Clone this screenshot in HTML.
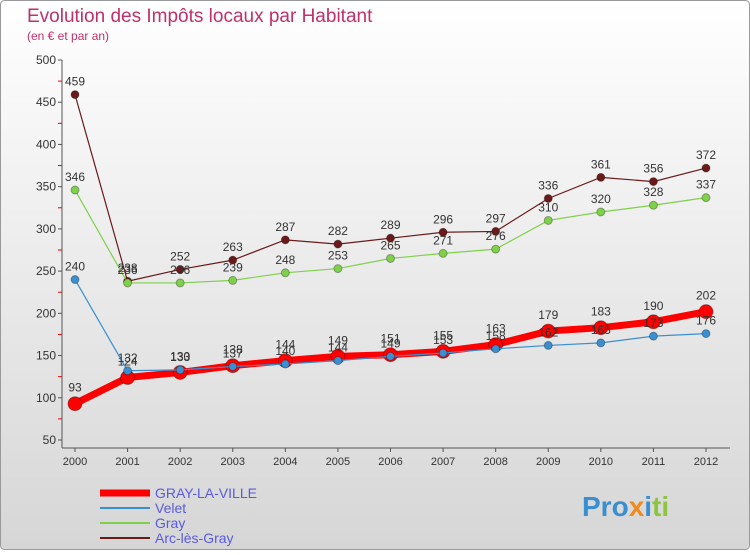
<!DOCTYPE html>
<html><head><meta charset="utf-8"><style>
body{margin:0;width:750px;height:550px;overflow:hidden;font-family:"Liberation Sans",sans-serif}
</style></head><body>
<svg width="750" height="550" xmlns="http://www.w3.org/2000/svg">
<defs><linearGradient id="bg" x1="0" y1="0" x2="0" y2="1"><stop offset="0" stop-color="#ffffff"/><stop offset="1" stop-color="#d6d6d6"/></linearGradient></defs>
<rect x="0.5" y="0.5" width="749" height="549" rx="4" fill="url(#bg)" stroke="#999"/>
<text x="27" y="22" font-size="19" fill="#c0306a">Evolution des Impôts locaux par Habitant</text>
<text x="27" y="40" font-size="12" fill="#c0306a">(en € et par an)</text>
<g id="axes"></g>
<g id="series"></g>
<g id="legend"></g>
<text x="582" y="516" font-size="28" font-weight="bold"><tspan fill="#3a8fd0">Pro</tspan><tspan fill="#f08a1c">x</tspan><tspan fill="#3a8fd0">i</tspan><tspan fill="#8cc63f">ti</tspan></text>
</svg>
<script>
const years=[2000,2001,2002,2003,2004,2005,2006,2007,2008,2009,2010,2011,2012];
const yTicks=[50,100,150,200,250,300,350,400,450,500];
const grayLaVille=[93,124,130,138,144,149,151,155,163,179,183,190,202];
const velet=[240,132,133,137,140,144,149,153,158,162,165,173,176];
const gray=[346,236,236,239,248,253,265,271,276,310,320,328,337];
const arc=[459,238,252,263,287,282,289,296,297,336,361,356,372];
const NS="http://www.w3.org/2000/svg";
const X=i=>75+i*(706-75)/12;
const Y=v=>440-(v-50)*380/450;
function mk(t,a,p){const e=document.createElementNS(NS,t);for(const k in a)e.setAttribute(k,a[k]);p.appendChild(e);return e;}
const ax=document.getElementById('axes');
const yl=mk('line',{x1:62,y1:60,x2:62,y2:448,stroke:'#555'},ax);


const xl=mk('line',{x1:62,y1:448,x2:730,y2:448,stroke:'#555'},ax);


yTicks.forEach(v=>{
  mk('line',{x1:58,y1:Y(v),x2:62,y2:Y(v),stroke:'#555'},ax);
  if(v<500)mk('line',{x1:58,y1:Y(v+25),x2:62,y2:Y(v+25),stroke:'#e00'},ax);
  const t=mk('text',{x:56,y:Y(v)+4,'font-size':12,'text-anchor':'end',fill:'#333'},ax);t.textContent=v;
  
  
});
years.forEach((y,i)=>{
  mk('line',{x1:X(i),y1:448,x2:X(i),y2:452,stroke:'#555'},ax);
  const t=mk('text',{x:X(i),y:465,'font-size':11,'text-anchor':'middle',fill:'#333'},ax);t.textContent=y;
  
  
});
const sg=document.getElementById('series');
function series(data,color,dot,w,r,name,labOff){
  const g=mk('g',{},sg);
  
  
  mk('polyline',{points:data.map((v,i)=>X(i)+','+Y(v)).join(' '),fill:'none',stroke:color,'stroke-width':w},g);
  data.forEach((v,i)=>{
    const c=mk('circle',{cx:X(i),cy:Y(v),r:r,fill:dot,stroke:'rgba(0,0,0,0.3)'},g);
    
    
    const t=mk('text',{x:X(i),y:Y(v)-labOff,'font-size':12,'text-anchor':'middle',fill:'#333'},g);t.textContent=v;
    
    
  });
}
series(arc,'#6b1a1a','#6b1a1a',1.2,4,'series-arc-les-gray',9);
series(gray,'#7fd04a','#7fd04a',1.2,4,'series-gray',9);
series(grayLaVille,'#f00','#f00',7,7,'series-gray-la-ville',12);
series(velet,'#3a8fd0','#3a8fd0',1.2,4,'series-velet',9);
const lg=document.getElementById('legend');
[['GRAY-LA-VILLE','#f00',7],['Velet','#3a8fd0',2],['Gray','#7fd04a',2],['Arc-lès-Gray','#6b1a1a',2]].forEach((e,i)=>{
  const y=493+i*15;
  const g=mk('g',{},lg);
  
  
  mk('line',{x1:100,y1:y,x2:150,y2:y,stroke:e[1],'stroke-width':e[2]},g);
  const t=mk('text',{x:155,y:y+5,'font-size':14,fill:'#5a5adf'},g);t.textContent=e[0];
});
</script>
</body></html>
